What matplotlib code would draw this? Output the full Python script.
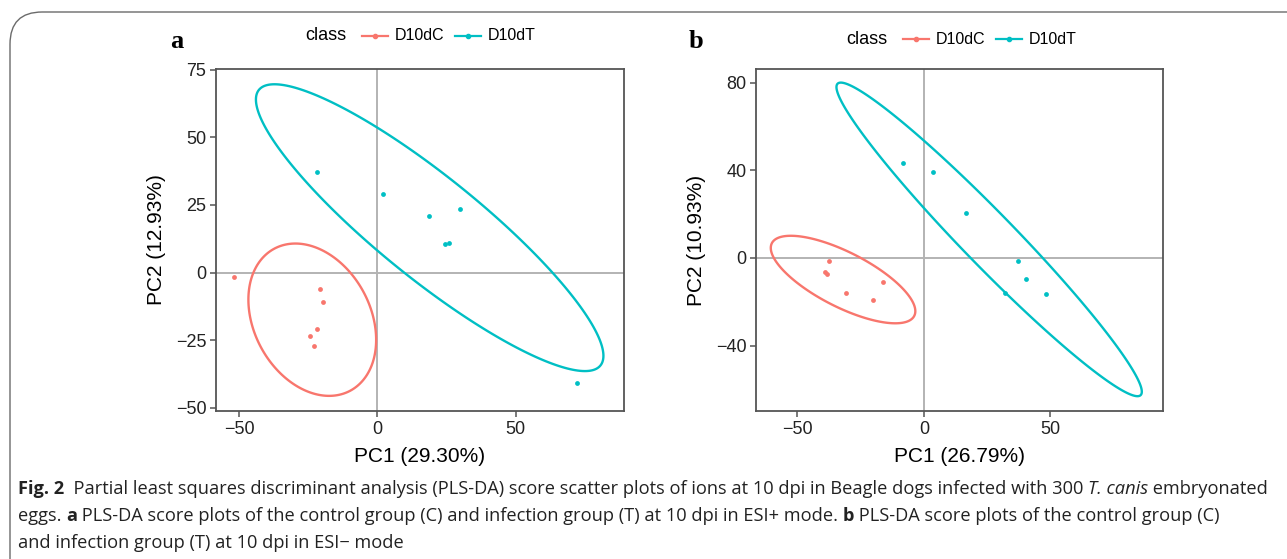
import numpy as np
import matplotlib
matplotlib.use("Agg")
import matplotlib.pyplot as plt
from matplotlib.patches import FancyBboxPatch
from matplotlib.lines import Line2D
from matplotlib import font_manager

# panel a (ESI+)
a_ctrl_x = [-51.8, -20.7, -19.6, -21.9, -24.2, -23.0]
a_ctrl_y = [-1.5, -6.1, -10.9, -20.8, -23.5, -27.3]
a_inf_x = [-21.9, 2.2, 18.8, 29.9, 24.5, 25.8, 72.1]
a_inf_y = [37.1, 29.1, 20.9, 23.6, 10.4, 11.1, -41.0]

# panel b (ESI-)
b_ctrl_x = [-37.5, -39.0, -38.2, -30.8, -20.2, -16.0]
b_ctrl_y = [-1.5, -6.4, -7.3, -15.8, -19.2, -11.1]
b_inf_x = [-8.3, 3.6, 16.8, 37.4, 40.6, 32.1, 48.5]
b_inf_y = [43.2, 39.3, 20.6, -1.5, -9.7, -16.0, -16.3]

classes = ["D10dC", "D10dT"]
cores = {"D10dC": "#F8766D", "D10dT": "#00BFC4"}

W, H = 1287, 559
fig = plt.figure(figsize=(W / 100, H / 100), dpi=100)

nomes = [f.name for f in font_manager.fontManager.ttflist]
sans = "Liberation Sans" if "Liberation Sans" in nomes else "DejaVu Sans"
caption_font = "Liberation Sans Narrow" if "Liberation Sans Narrow" in nomes else "Open Sans"
plt.rcParams["font.family"] = [sans, "DejaVu Sans"]


def cov_trob(x, nu=5, maxit=25, tol=0.01):
    # same idea as MASS::cov.trob (used by stat_ellipse type="t")
    n, p = x.shape
    wt = np.ones(n)
    loc = x.mean(axis=0)
    w = np.sqrt(wt)
    for _ in range(maxit):
        w0 = w
        X = x - loc
        sw = np.sqrt(w / w.sum())
        _, d, vt = np.linalg.svd(sw[:, None] * X, full_matrices=False)
        wX = X @ vt.T @ np.diag(1 / d)
        Q = (wX ** 2).sum(axis=1)
        w = wt * (nu + p) / (nu + Q)
        loc = (w[:, None] * x).sum(axis=0) / w.sum()
        if np.all(np.abs(w - w0) < tol):
            break
    sX = np.sqrt(w)[:, None] * X
    return loc, sX.T @ sX / wt.sum()


def elipse(xs, ys, level=0.95, seg=240):
    pts = np.column_stack([xs, ys])
    centro, forma = cov_trob(pts)
    dfd = len(xs) - 1
    # quantile of F(2, dfd) in closed form
    qf = dfd / 2 * ((1 - level) ** (-2 / dfd) - 1)
    raio = np.sqrt(2 * qf)
    R = np.linalg.cholesky(forma).T
    ang = np.linspace(0, 2 * np.pi, seg, endpoint=False)
    circ = np.column_stack([np.cos(ang), np.sin(ang)])
    e = centro + raio * circ @ R
    return e[:, 0], e[:, 1]


def painel(rect, dados, xlim, ylim, yticks, xlabel, ylabel):
    ax = fig.add_axes(rect)
    ax.axhline(0, color="#b3b3b3", lw=1.4, zorder=1)
    ax.axvline(0, color="#b3b3b3", lw=1.4, zorder=1)
    for cl, (xs, ys) in zip(classes, dados):
        ex, ey = elipse(xs, ys)
        ax.fill(ex, ey, fill=False, ec=cores[cl], lw=1.7, zorder=2, joinstyle="round")
        ax.scatter(xs, ys, s=12, color=cores[cl], lw=0, zorder=3)
    ax.set_xlim(*xlim)
    ax.set_ylim(*ylim)
    ax.set_xticks([-50, 0, 50])
    ax.set_yticks(yticks)
    ax.set_yticklabels([str(v).replace("-", "\u2212") for v in yticks])
    ax.set_xticklabels([str(v).replace("-", "\u2212") for v in [-50, 0, 50]])
    for s in ax.spines.values():
        s.set_color("#555555")
        s.set_linewidth(1.3)
    ax.tick_params(length=4.5, width=1.1, color="#555555", labelsize=13,
                   labelcolor="#222222", pad=2.5)
    ax.set_xlabel(xlabel, fontsize=15, color="black", labelpad=7)
    ax.set_ylabel(ylabel, fontsize=15, color="black", labelpad=7)
    return ax


def px(x, y):
    return x / W, 1 - y / H


painel([216 / W, 1 - 411 / H, 408 / W, 342 / H],
       [(a_ctrl_x, a_ctrl_y), (a_inf_x, a_inf_y)],
       (-58.3, 89.2), (-51.2, 75.3), [-50, -25, 0, 25, 50, 75],
       "PC1 (29.30%)", "PC2 (12.93%)")
painel([756.5 / W, 1 - 411 / H, 406.5 / W, 342 / H],
       [(b_ctrl_x, b_ctrl_y), (b_inf_x, b_inf_y)],
       (-66.2, 94.6), (-69.9, 86.3), [-40, 0, 40, 80],
       "PC1 (26.79%)", "PC2 (10.93%)")

# legends on top
for (tx, cx1, cx2, y) in [(305, (362, 388), (455, 481), 36),
                          (846, (903, 929), (996, 1022), 39)]:
    fig.text(*px(tx, y), "class", fontsize=13, va="center", ha="left")
    for cl, (x0, x1) in zip(classes, [cx1, cx2]):
        fx0, fy = px(x0, y)
        fx1, _ = px(x1, y)
        fig.add_artist(Line2D([fx0, fx1], [fy, fy], color=cores[cl], lw=1.6,
                              transform=fig.transFigure))
        fig.add_artist(Line2D([(fx0 + fx1) / 2], [fy], color=cores[cl], marker="o",
                              ms=3, lw=0, transform=fig.transFigure))
        fig.text(*px(x1 + 7, y), cl, fontsize=11.5, va="center", ha="left")

fig.text(*px(170, 42), "a", fontsize=19, fontweight="bold", family="Liberation Serif",
         va="center", ha="left")
fig.text(*px(689, 42), "b", fontsize=19, fontweight="bold", family="Liberation Serif",
         va="center", ha="left")

# rounded frame
fig.add_artist(FancyBboxPatch((10 / W, 1 - 612 / H), 1320 / W, 600 / H,
                              boxstyle="round,pad=0,rounding_size=0.025",
                              transform=fig.transFigure, fill=False,
                              ec="#6b6b6b", lw=1.0, mutation_aspect=W / H))

# caption
linhas = [
    [("Fig. 2", "bold", "normal"),
     ("  Partial least squares discriminant analysis (PLS-DA) score scatter plots of ions at 10 dpi in Beagle dogs infected with 300 ", "normal", "normal"),
     ("T. canis", "normal", "italic"),
     (" embryonated", "normal", "normal")],
    [("eggs. ", "normal", "normal"), ("a", "bold", "normal"),
     (" PLS-DA score plots of the control group (C) and infection group (T) at 10 dpi in ESI+ mode. ", "normal", "normal"),
     ("b", "bold", "normal"),
     (" PLS-DA score plots of the control group (C)", "normal", "normal")],
    [("and infection group (T) at 10 dpi in ESI\u2212 mode", "normal", "normal")],
]
bases = [494, 521, 548]

renderer = fig.canvas.get_renderer()


def largura(t):
    return t.get_window_extent(renderer).width


# size the caption so the first line spans the same width as the reference
teste = 14
tot = 0
tmp = []
for txt, wgt, sty in linhas[0]:
    t = fig.text(0, 0, txt, fontsize=teste, fontweight=wgt, fontstyle=sty,
                 family=[caption_font, "DejaVu Sans"])
    tot += largura(t)
    tmp.append(t)
for t in tmp:
    t.remove()
fs = teste * 1259 / tot

for linha, yb in zip(linhas, bases):
    x = 18
    for txt, wgt, sty in linha:
        t = fig.text(*px(x, yb), txt, fontsize=fs, fontweight=wgt, fontstyle=sty,
                     family=[caption_font, "DejaVu Sans"], va="baseline", ha="left",
                     color="#222222")
        x += largura(t)

fig.savefig("out.png", dpi=100)
